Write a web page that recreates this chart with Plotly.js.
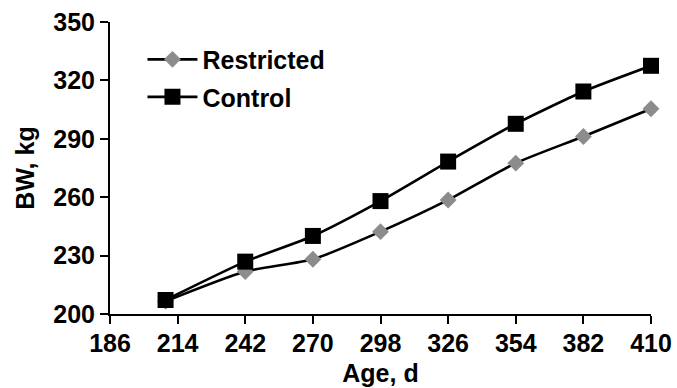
<!DOCTYPE html>
<html>
<head>
<meta charset="utf-8">
<script src="https://cdn.plot.ly/plotly-3.0.1.min.js"></script>
<style>html,body{margin:0;padding:0;background:#fff;}#chart{width:677px;height:388px;}</style>
</head>
<body>
<div id="chart"></div>
<script>
const age = [209, 242, 270, 298, 326, 354, 382, 410];
const restricted = [206.5, 221.8, 228.1, 242.3, 258.6, 277.5, 291.2, 305.4];
const control = [207.2, 226.9, 240.1, 258.0, 278.3, 297.7, 314.3, 327.5];
const xTicks = [186, 214, 242, 270, 298, 326, 354, 382, 410];
const yTicks = [200, 230, 260, 290, 320, 350];

const fam = 'Liberation Sans, Arial, sans-serif';
const bold = (s) => ({family: fam, size: s, color: '#000', weight: 'bold'});

const traces = [
  {
    x: age, y: restricted, name: 'Restricted', type: 'scatter', mode: 'lines+markers',
    legendgroup: 'r', cliponaxis: false,
    line: {color: '#000', width: 2.6, shape: 'spline', smoothing: 0.6},
    marker: {symbol: 'diamond', size: 13, color: '#8c8c8c', line: {width: 0}}
  },
  {
    x: age, y: control, name: 'Control', type: 'scatter', mode: 'lines+markers',
    legendgroup: 'c', cliponaxis: false,
    line: {color: '#000', width: 2.6, shape: 'spline', smoothing: 0.6},
    marker: {symbol: 'square', size: 16, color: '#000', line: {width: 0}}
  }
];

const layout = {
  width: 677, height: 388,
  margin: {l: 110, r: 26, t: 22, b: 74},
  paper_bgcolor: '#fff', plot_bgcolor: '#fff',
  font: {family: fam, color: '#000'},
  showlegend: true,
  legend: {
    x: 0.06, y: 0.95, xanchor: 'left', yanchor: 'top',
    font: bold(25),
    bgcolor: 'rgba(0,0,0,0)', itemwidth: 50, tracegroupgap: 2,
    traceorder: 'grouped'
  },
  xaxis: {
    range: [186, 410], tickvals: xTicks, ticktext: xTicks.map(String),
    showgrid: false, zeroline: false, showline: true, linecolor: '#000', linewidth: 2,
    ticks: 'outside', ticklen: 8, tickwidth: 2, tickcolor: '#000',
    tickfont: bold(25), ticklabelstandoff: -2,
    title: {text: 'Age, d', font: bold(25), standoff: 8},
    fixedrange: true
  },
  yaxis: {
    range: [200, 350], tickvals: yTicks, ticktext: yTicks.map(String),
    showgrid: false, zeroline: false, showline: true, linecolor: '#000', linewidth: 2,
    ticks: 'outside', ticklen: 8, tickwidth: 2, tickcolor: '#000',
    tickfont: bold(25),
    title: {text: 'BW, kg', font: bold(25), standoff: 12},
    fixedrange: true
  }
};

Plotly.newPlot('chart', traces, layout, {displayModeBar: false, staticPlot: true});
</script>
</body>
</html>
